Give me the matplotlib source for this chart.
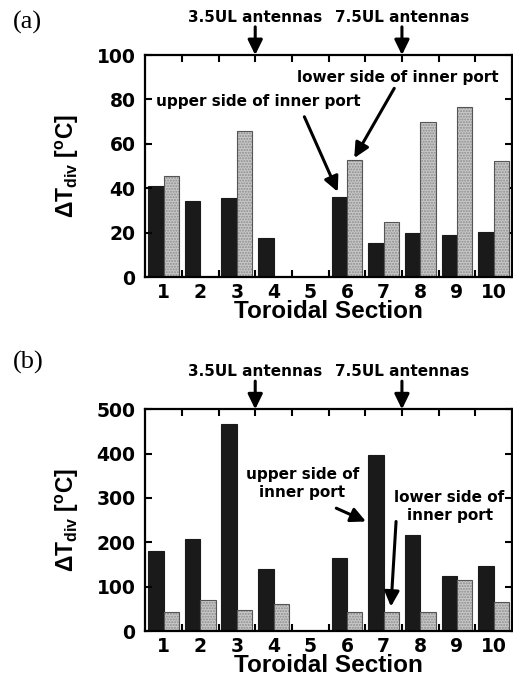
import numpy as np
import matplotlib.pyplot as plt

plt.rcParams['font.family'] = ['DejaVu Sans']
plt.rcParams['font.weight'] = 'bold'
plt.rcParams['mathtext.default'] = 'regular'

# data
sections = [1, 2, 3, 4, 5, 6, 7, 8, 9, 10]
a_black = [41, 34.4, 35.4, 17.4, 0, 36, 15.2, 20, 18.9, 20.4]
a_gray = [45.6, 0, 65.9, 0, 0, 52.7, 24.8, 69.7, 76.4, 52.1]
b_black = [181, 207, 466, 139, 0, 164, 398, 217, 123, 147]
b_gray = [42, 71, 48, 60, 0, 44, 42, 44, 115, 65]

fig = plt.figure(figsize=(5.13, 6.78), dpi=100)
ax_a = fig.add_axes([0.283, 0.5914, 0.715, 0.3274])
ax_b = fig.add_axes([0.283, 0.0693, 0.715, 0.327])

x = np.array(sections)
w = 0.42
ann_fs = 11
arrow = dict(arrowstyle='-|>,head_length=0.45,head_width=0.22', lw=2.2,
             color='k', mutation_scale=20, shrinkA=0, shrinkB=0)


def setup(ax, black, gray, ymax, step):
    ax.bar(x - w / 2, black, w, color='#1a1a1a', edgecolor='#1a1a1a', lw=0.8)
    # stippled gray bars: hatch fill, then outline on top
    ax.bar(x + w / 2, gray, w, color='#c8c8c8', edgecolor='#8c8c8c', lw=0,
           hatch='......', zorder=2)
    ax.bar(x + w / 2, gray, w, fill=False, edgecolor='#555555', lw=0.8,
           zorder=3)
    ax.set_xlim(0.5, 10.5)
    ax.set_ylim(0, ymax)
    ax.set_xticks(sections)
    ax.set_xticks(np.arange(1.5, 10.5, 1), minor=True)
    ax.set_yticks(np.arange(0, ymax + 1, step))
    ax.tick_params(axis='x', which='major', length=0, labelsize=13.5, pad=4)
    ax.tick_params(axis='x', which='minor', direction='in', top=True,
                   bottom=True, length=5, width=1.5)
    ax.tick_params(axis='y', direction='in', left=True, right=True,
                   length=5, width=1.5, labelsize=13.5, pad=7)
    for s in ax.spines.values():
        s.set_linewidth(1.6)
        s.set_zorder(5)
    ax.set_xlabel('Toroidal Section', fontsize=17.5, fontweight='bold',
                  family='Liberation Sans', labelpad=-1)
    ax.set_ylabel('ΔT$_{div}$ [$^{o}$C]', fontsize=16.5, fontweight='bold',
                  family='Liberation Sans', labelpad=11)
    for xv, lab in [(3.5, '3.5UL antennas'), (7.5, '7.5UL antennas')]:
        ax.annotate('', xy=(xv, 1.0), xycoords=('data', 'axes fraction'),
                    xytext=(xv, 1.127), textcoords=('data', 'axes fraction'),
                    arrowprops=arrow, annotation_clip=False)
        ax.text(xv, 1.148, lab, transform=ax.get_xaxis_transform(),
                ha='center', va='baseline', fontsize=ann_fs, fontweight='bold')


setup(ax_a, a_black, a_gray, 100, 20)
setup(ax_b, b_black, b_gray, 500, 100)

ax_a.text(7.39, 90, 'lower side of inner port', ha='center', va='center',
          fontsize=ann_fs, fontweight='bold')
ax_a.annotate('', xy=(6.2, 53.6), xytext=(7.29, 85), arrowprops=arrow)
ax_a.text(3.59, 79, 'upper side of inner port', ha='center', va='center',
          fontsize=ann_fs, fontweight='bold')
ax_a.annotate('', xy=(5.75, 38.4), xytext=(4.84, 72.2), arrowprops=arrow)

ax_b.text(4.78, 332, 'upper side of\ninner port', ha='center', va='center',
          fontsize=ann_fs, fontweight='bold', linespacing=1.25)
ax_b.annotate('', xy=(6.52, 247), xytext=(5.71, 277), arrowprops=arrow)
ax_b.text(8.8, 281, 'lower side of\ninner port', ha='center', va='center',
          fontsize=ann_fs, fontweight='bold', linespacing=1.3, clip_on=False)
ax_b.annotate('', xy=(7.2, 55), xytext=(7.34, 247), arrowprops=arrow)

fig.text(0.025, 0.967, '(a)', fontsize=19, family='Liberation Serif',
         fontweight='normal', va='center')
fig.text(0.025, 0.466, '(b)', fontsize=19, family='Liberation Serif',
         fontweight='normal', va='center')

fig.savefig('out.png', dpi=100)
